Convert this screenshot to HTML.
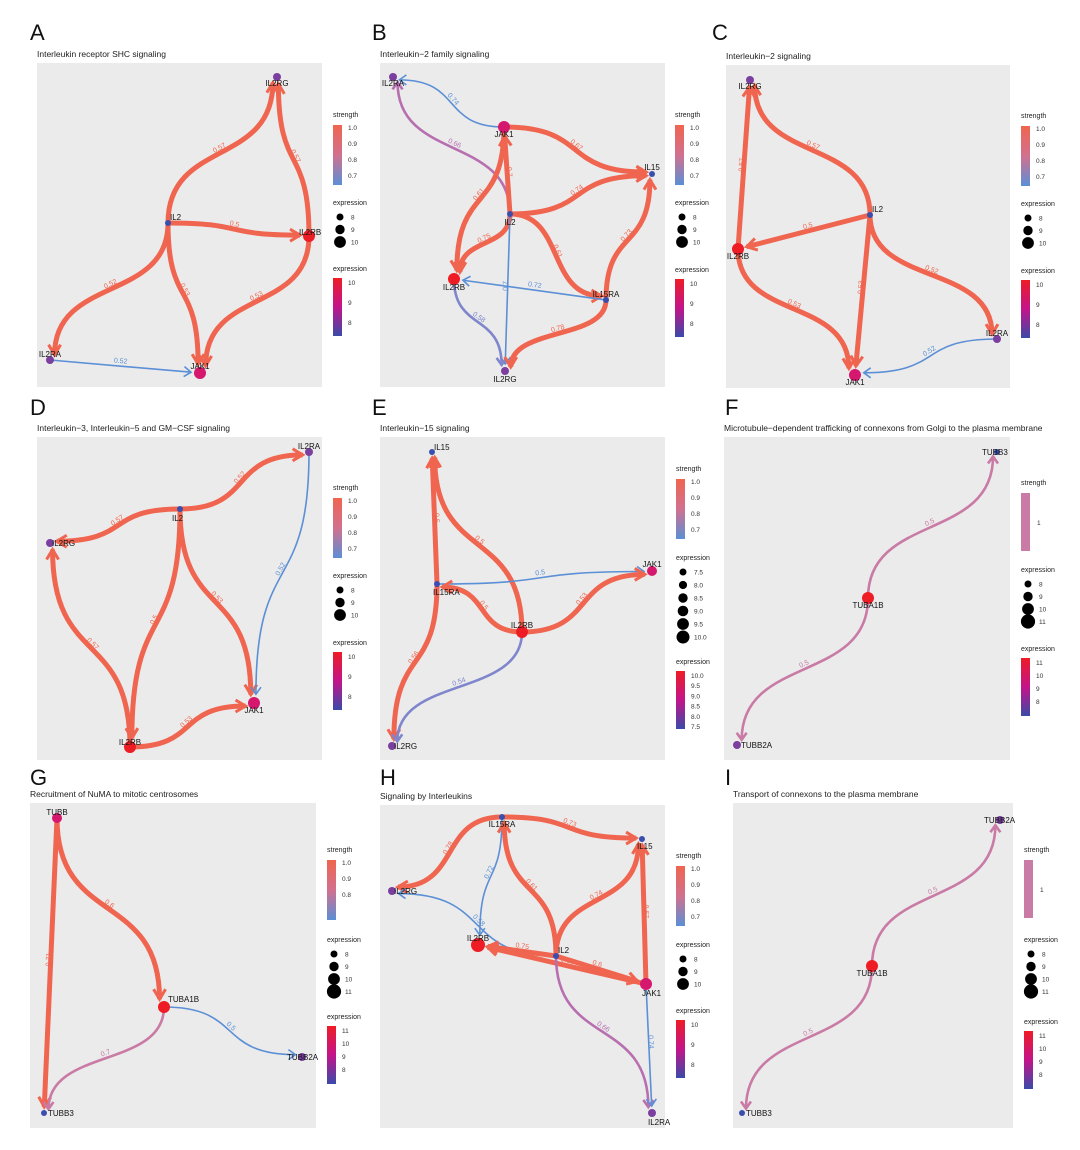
<!DOCTYPE html>
<html><head><meta charset="utf-8"><style>
html,body{margin:0;padding:0;background:#fff;}
svg{display:block;font-family:"Liberation Sans",Arial,sans-serif;}
</style></head><body>
<svg id="s" width="1080" height="1150" viewBox="0 0 1080 1150" xmlns="http://www.w3.org/2000/svg">
<defs>
<linearGradient id="gs" x1="0" y1="0" x2="0" y2="1"><stop offset="0" stop-color="#f0654f"/><stop offset="0.5" stop-color="#d2708f"/><stop offset="1" stop-color="#5b8fd6"/></linearGradient>
<linearGradient id="ge" x1="0" y1="0" x2="0" y2="1"><stop offset="0" stop-color="#ee1c25"/><stop offset="0.5" stop-color="#c4148a"/><stop offset="1" stop-color="#3a4aa8"/></linearGradient>
</defs>
</svg>
<script>
var S=document.getElementById('s'),NS='http://www.w3.org/2000/svg';
function el(t,a,txt){var e=document.createElementNS(NS,t);for(var k in a)e.setAttribute(k,a[k]);if(txt!=null)e.textContent=txt;S.appendChild(e);return e;}
function txt(x,y,s,sz,fill,anchor,rot){var a={x:x,y:y,'font-size':sz||8,fill:fill||'#222'};if(anchor)a['text-anchor']=anchor;if(rot!=null)a.transform='rotate('+rot+' '+x+' '+y+')';return el('text',a,s);}
var C={red:'#ee1c25',mag:'#d6176e',pur:'#7a3f9f',blu:'#3a4fad'};
var EC={r:'#f0654f',b:'#5b8fd6',p:'#b76fb0',v:'#7f86cc',k:'#c97aa5'};
function panel(P){
  txt(P.L[0],P.L[1],P.letter,22,'#111');
  txt(P.r[0],P.r[1]-6,P.title,8.5,'#222');
  el('rect',{x:P.r[0],y:P.r[1],width:P.r[2]-P.r[0],height:P.r[3]-P.r[1],fill:'#ebebeb'});
  var N=P.n;
  P.e.forEach(function(E){
    var a=N[E[0]],b=N[E[1]],col=EC[E[2]],w=E[2]=='r'?5:(E[2]=='b'?1.6:2.6);
    var x1=a[0],y1=a[1],x2=b[0],y2=b[1],dx=x2-x1,dy=y2-y1,L=Math.hypot(dx,dy);
    var sh=(b[3]||4)+3; x2-=dx/L*sh; y2-=dy/L*sh; dx=x2-x1; dy=y2-y1;
    var mode=E[4]||(Math.abs(dx)>Math.abs(dy)?'h':'v');var k=0.6,c1,c2;
    if(mode=='h'){c1=[x1+dx*k,y1];c2=[x2-dx*k,y2];}else if(mode=='s'){c1=[x1+dx/3,y1+dy/3];c2=[x2-dx/3,y2-dy/3];}else{c1=[x1,y1+dy*k];c2=[x2,y2-dy*k];}
    el('path',{d:'M'+x1+' '+y1+'C'+c1+' '+c2+' '+x2+' '+y2,fill:'none',stroke:col,'stroke-width':w});
    var tx=x2-c2[0],ty=y2-c2[1],tl=Math.hypot(tx,ty)||1;tx/=tl;ty/=tl;
    var hl=w>4?10:7,hw=w>4?6:5;
    var p1=[x2-tx*hl-ty*hw,y2-ty*hl+tx*hw],p2=[x2-tx*hl+ty*hw,y2-ty*hl-tx*hw];
    el('polyline',{points:p1+' '+x2+','+y2+' '+p2,fill:'none',stroke:col,'stroke-width':Math.min(w,3),'stroke-linejoin':'miter'});
    var t=.5,mx=.125*x1+.375*c1[0]+.375*c2[0]+.125*x2,my=.125*y1+.375*c1[1]+.375*c2[1]+.125*y2;
    var ddx=(c2[0]+x2-x1-c1[0]),ddy=(c2[1]+y2-y1-c1[1]);var ang=Math.atan2(ddy,ddx)*180/Math.PI;if(ang>90)ang-=180;if(ang<-90)ang+=180;
    txt(mx,my-3,E[3],7,col,'middle',ang);
  });
  for(var k in N){var n=N[k];el('circle',{cx:n[0],cy:n[1],r:n[3]||4,fill:C[n[2]]});
    txt(n[0]+(n[4]||0),n[1]+(n[5]!=null?n[5]:4),k,8,'#111',n[4]!=null&&n[4]!==0?'start':'middle');}
  var g=P.g,x=g[0];
  txt(x,g[1],'strength',7,'#222');
  if(P.pink){el('rect',{x:x,y:g[1]+8,width:9,height:58,fill:'#c97aa5'});txt(x+16,g[1]+40,'1',6.5,'#333');}
  else{el('rect',{x:x,y:g[1]+8,width:9,height:60,fill:'url(#gs)'});
    var st=P.st||['1.0','0.9','0.8','0.7'];st.forEach(function(s,i){txt(x+15,g[1]+13+i*16,s,6.5,'#333');});}
  txt(x,g[2],'expression',7,'#222');
  var ds=P.ds||['8','9','10'];ds.forEach(function(s,i){var r=3.5+i*(ds.length>4?0.6:1.2);var yy=g[2]+12+i*(ds.length>4?13:12.5);el('circle',{cx:x+7,cy:yy,r:r,fill:'#000'});txt(x+18,yy+2.5,s,6.5,'#333');});
  txt(x,g[3],'expression',7,'#222');
  el('rect',{x:x,y:g[3]+7,width:9,height:58,fill:'url(#ge)'});
  var es=P.es||['10','9','8'];es.forEach(function(s,i){txt(x+15,g[3]+14+i*(es.length>3?(es.length>4?10.2:13):20),s,6.5,'#333');});
}
panel({letter:'A',L:[30,40],title:'Interleukin receptor SHC signaling',r:[37,63,322,387],g:[333,117,205,271],
 n:{IL2RG:[277,77,'pur',4,0,9],IL2:[168,223,'blu',3,2,-3],IL2RB:[309,236,'red',6,-10,-1],IL2RA:[50,360,'pur',4,0,-3],JAK1:[200,373,'mag',6,0,-4]},
 e:[['IL2','IL2RG','r','0.57'],['IL2RB','IL2RG','r','0.57','v'],['IL2','IL2RB','r','0.5'],['IL2','IL2RA','r','0.52','v'],['IL2','JAK1','r','0.53'],['IL2RB','JAK1','r','0.53','v'],['IL2RA','JAK1','b','0.52','s']]});
panel({letter:'B',L:[372,40],title:'Interleukin−2 family signaling',r:[380,63,665,387],g:[675,117,205,272],
 n:{IL2RA:[393,77,'pur',4,0,9],JAK1:[504,127,'mag',6,0,10],IL15:[652,174,'blu',3,0,-4],IL2:[510,214,'blu',3,0,11],IL2RB:[454,279,'red',6,0,11],IL15RA:[606,300,'blu',3,0,-3],IL2RG:[505,371,'pur',4,0,11]},
 e:[['JAK1','IL2RA','b','0.74','h'],['IL2','IL2RA','p','0.66','v'],['JAK1','IL15','r','0.67'],['IL2','JAK1','r','0.7','s'],['IL2','IL15','r','0.74'],['IL2','IL2RB','r','0.75'],['JAK1','IL2RB','r','0.61','v'],['IL2','IL15RA','r','0.61'],['IL15RA','IL15','r','0.73','v'],['IL15RA','IL2RB','b','0.72','s'],['IL2','IL2RG','b','0.7','s'],['IL2RB','IL2RG','v','0.58','v'],['IL15RA','IL2RG','r','0.78','v']]});
panel({letter:'C',L:[712,40],title:'Interleukin−2 signaling',r:[726,65,1010,388],g:[1021,118,206,273],
 n:{IL2RG:[750,80,'pur',4,0,9],IL2:[870,215,'blu',3,2,-3],IL2RB:[738,249,'red',6,0,10],IL2RA:[997,339,'pur',4,0,-3],JAK1:[855,375,'mag',6,0,10]},
 e:[['IL2','IL2RG','r','0.57','v'],['IL2RB','IL2RG','r','0.57','s'],['IL2','IL2RB','r','0.5','s'],['IL2','IL2RA','r','0.52','v'],['IL2','JAK1','r','0.53','s'],['IL2RB','JAK1','r','0.53','v'],['IL2RA','JAK1','b','0.52','h']]});
panel({letter:'D',L:[30,415],title:'Interleukin−3, Interleukin−5 and GM−CSF signaling',r:[37,437,322,760],g:[333,490,578,645],
 n:{IL2RA:[309,452,'pur',4,0,-3],IL2:[180,509,'blu',3,-8,12],IL2RG:[50,543,'pur',4,2,3],JAK1:[254,703,'mag',6,0,10],IL2RB:[130,747,'red',6,0,-2]},
 e:[['IL2','IL2RA','r','0.52','h'],['IL2','IL2RG','r','0.57','h'],['IL2RB','IL2RG','r','0.57','v'],['IL2','IL2RB','r','0.5','v'],['IL2','JAK1','r','0.53','v'],['IL2RA','JAK1','b','0.52','v'],['IL2RB','JAK1','r','0.53','h']]});
panel({letter:'E',L:[372,415],title:'Interleukin−15 signaling',r:[380,437,665,760],g:[676,471,560,664],ds:['7.5','8.0','8.5','9.0','9.5','10.0'],es:['10.0','9.5','9.0','8.5','8.0','7.5'],
 n:{IL15:[432,452,'blu',3,2,-2],JAK1:[652,571,'mag',5,0,-4],IL15RA:[437,584,'blu',3,-4,11],IL2RB:[522,632,'red',6,0,-4],IL2RG:[392,746,'pur',4,2,3]},
 e:[['IL15RA','IL15','r','0.5','s'],['IL2RB','IL15','r','0.5','v'],['IL15RA','JAK1','b','0.5','h'],['IL2RB','IL15RA','r','0.5','h'],['IL2RB','JAK1','r','0.53','h'],['IL15RA','IL2RG','r','0.56','v'],['IL2RB','IL2RG','v','0.54','v']]});
panel({letter:'F',L:[725,415],title:'Microtubule−dependent trafficking of connexons from Golgi to the plasma membrane',r:[724,437,1010,760],g:[1021,485,572,651],pink:1,ds:['8','9','10','11'],es:['11','10','9','8'],
 n:{TUBB3:[997,452,'blu',3,-15,3],TUBA1B:[868,598,'red',6,0,10],TUBB2A:[737,745,'pur',4,4,3]},
 e:[['TUBA1B','TUBB3','k','0.5','v'],['TUBA1B','TUBB2A','k','0.5','v']]});
panel({letter:'G',L:[30,785],title:'Recruitment of NuMA to mitotic centrosomes',r:[30,803,316,1128],g:[327,852,942,1019],st:['1.0','0.9','0.8'],ds:['8','9','10','11'],es:['11','10','9','8'],
 n:{TUBB:[57,818,'mag',5,0,-3],TUBA1B:[164,1007,'red',6,4,-5],TUBB2A:[302,1057,'pur',4,-15,3],TUBB3:[44,1113,'blu',3,4,3]},
 e:[['TUBB','TUBA1B','r','0.6','v'],['TUBB','TUBB3','r','0.71','s'],['TUBA1B','TUBB2A','b','0.5','h'],['TUBA1B','TUBB3','k','0.7','v']]});
panel({letter:'H',L:[380,785],title:'Signaling by Interleukins',r:[380,805,665,1128],g:[676,858,947,1013],
 n:{IL15RA:[502,817,'blu',3,0,10],IL15:[642,839,'blu',3,-5,10],IL2RG:[392,891,'pur',4,2,3],IL2RB:[478,945,'red',7,0,-4],IL2:[556,956,'blu',3,2,-3],JAK1:[646,984,'mag',6,-4,12],IL2RA:[652,1113,'pur',4,-4,12]},
 e:[['IL15RA','IL15','r','0.73','h'],['IL15RA','IL2RG','r','0.78','h'],['IL15RA','IL2RB','b','0.72','v'],['IL2','IL15RA','r','0.61','v'],['IL2','IL15','r','0.74','v'],['JAK1','IL15','r','0.67','s'],['IL2','IL2RG','b','0.58','h'],['IL2','IL2RB','r','0.75','s'],['JAK1','IL2RB','r','0.61','s'],['IL2','JAK1','r','0.6','s'],['IL2','IL2RA','p','0.66','v'],['JAK1','IL2RA','b','0.74','s']]});
panel({letter:'I',L:[725,785],title:'Transport of connexons to the plasma membrane',r:[733,803,1013,1128],g:[1024,852,942,1024],pink:1,ds:['8','9','10','11'],es:['11','10','9','8'],
 n:{TUBB2A:[1000,820,'pur',4,-16,3],TUBA1B:[872,966,'red',6,0,10],TUBB3:[742,1113,'blu',3,4,3]},
 e:[['TUBA1B','TUBB2A','k','0.5','v'],['TUBA1B','TUBB3','k','0.5','v']]});
</script>
</body></html>
